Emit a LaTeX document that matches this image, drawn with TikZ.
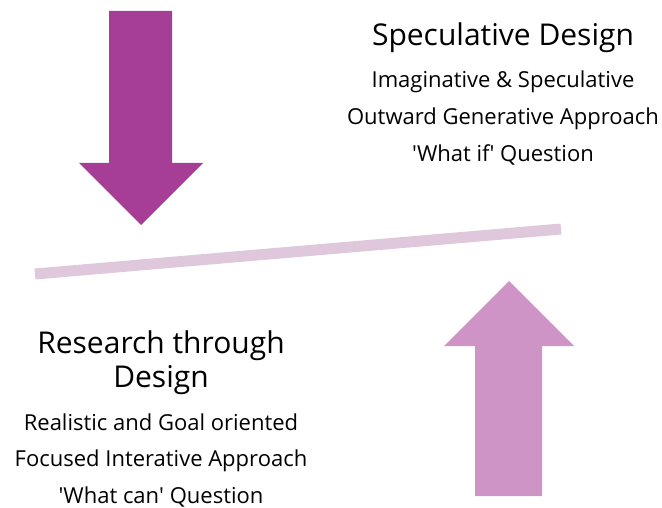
\documentclass[tikz,border=0pt]{standalone}
\usepackage{fontspec}
\setmainfont{Open Sans}

\definecolor{darkplum}{RGB}{166,62,152}
\definecolor{lightplum}{RGB}{206,148,198}
\definecolor{barplum}{RGB}{223,200,219}

\tikzset{every picture/.style={line width=0.75pt}}
\tikzset{
  headtext/.style={anchor=base, inner sep=0pt, font=\fontsize{30}{36}\selectfont},
  bodytext/.style={anchor=base, inner sep=0pt, font=\fontsize{22}{26}\selectfont},
}

\begin{document}
\begin{tikzpicture}[x=1pt,y=1pt,yscale=-1,xscale=1]
\useasboundingbox (0,0) rectangle (662,508);

%Shape: Down Arrow
\fill [darkplum] (109,11) -- (172,11) -- (172,163) -- (203,163) -- (141,225) -- (79,163) -- (109,163) -- cycle ;
%Shape: Up Arrow
\fill [lightplum] (475,496) -- (542,496) -- (542,346) -- (574,346) -- (509,281) -- (444,346) -- (475,346) -- cycle ;

%Straight Lines
\coordinate (barL) at (35,274) ;
\coordinate (barR) at (561,229) ;
\draw [barplum, line width=11pt] (barL) -- (barR) ;

% Text Node
\node (spec) [headtext] at (503,46) {Speculative Design};
\node (spec1) [bodytext] at (503,88) {Imaginative \& Speculative};
\node (spec2) [bodytext] at (503,125) {Outward Generative Approach};
\node (spec3) [bodytext] at (503,162) {\textquotesingle What if\textquotesingle{} Question};

% Text Node
\node (rtd) [headtext] at (161,353) {Research through};
\node (rtd0) [headtext] at (161,387) {Design};
\node (rtd1) [bodytext] at (161,430) {Realistic and Goal oriented};
\node (rtd2) [bodytext] at (161,466) {Focused Interative Approach};
\node (rtd3) [bodytext] at (161,503) {\textquotesingle What can\textquotesingle{} Question};

\end{tikzpicture}
\end{document}
